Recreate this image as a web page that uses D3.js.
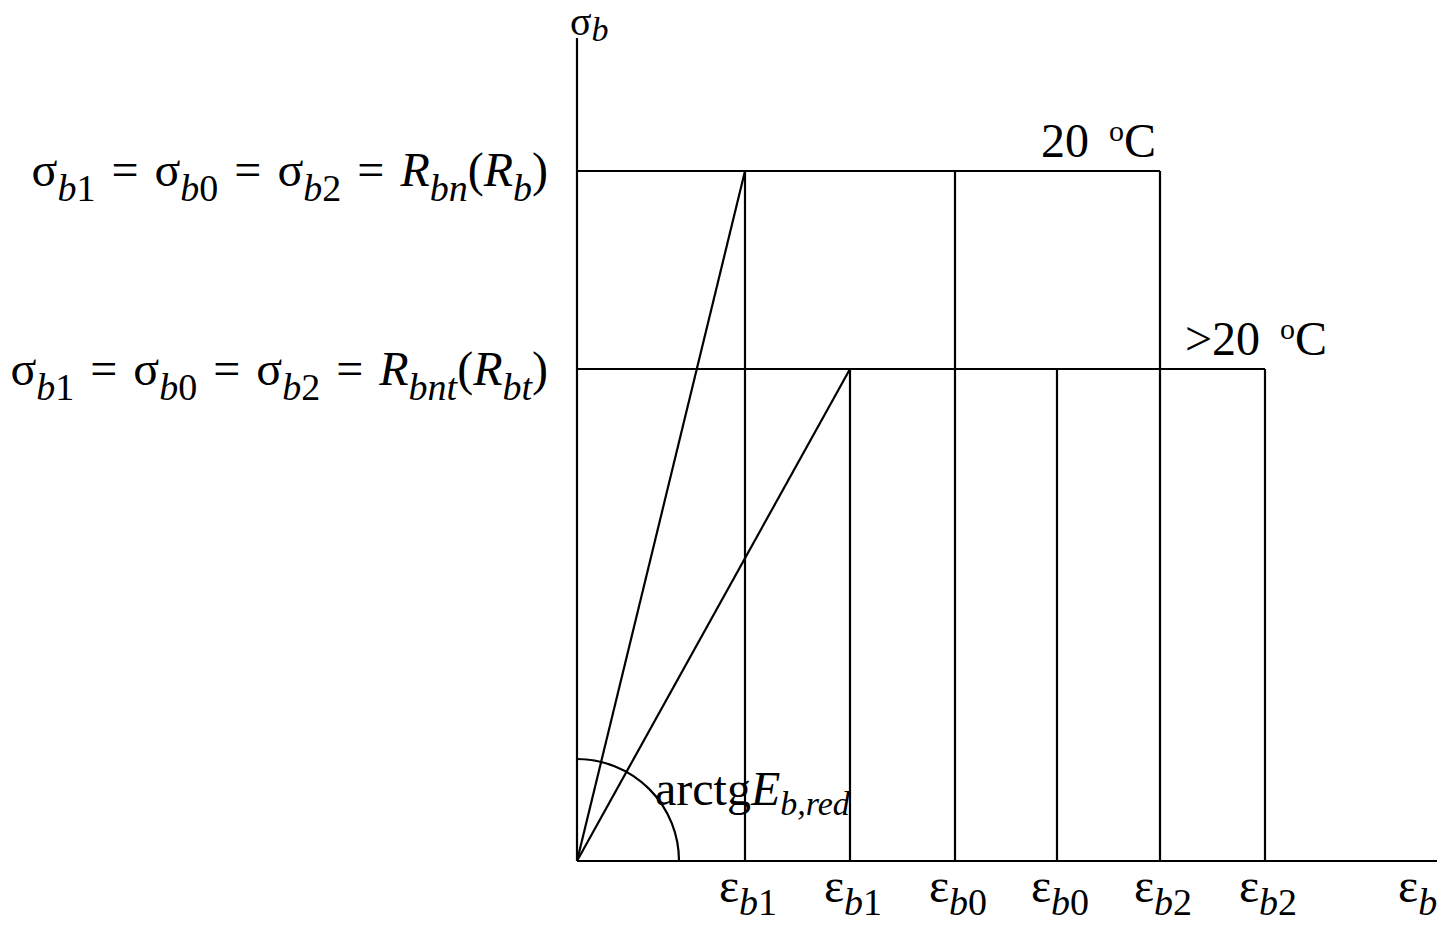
<!DOCTYPE html>
<html><head><meta charset="utf-8">
<script src="https://cdn.jsdelivr.net/npm/d3@7"></script>
<style>
body{margin:0;background:#fff}
text{font-family:"Liberation Serif","Times New Roman",serif;fill:#000}
</style>
</head><body>
<svg id="c" width="1449" height="929"></svg>
<script>
// Data (abstract strain / stress units)
const regimes = ["20 °C", ">20 °C"];
const stressLevels = [6.9, 4.92];
const epsB1 = [1.68, 2.73];
const epsB0 = [3.78, 4.80];
const epsB2 = [5.83, 6.88];
const tickValues = [1.68, 2.73, 3.78, 4.80, 5.83, 6.88];
const tickSubs = [["b","1"],["b","1"],["b","0"],["b","0"],["b","2"],["b","2"]];
const xMax = 8.6, yMax = 8.23;

const svg = d3.select("#c");
const x = d3.scaleLinear().domain([0, xMax]).range([577, 1437]);
const y = d3.scaleLinear().domain([0, yMax]).range([861, 38]);

const F = 48, FS = 38;
const g = svg.append("g").attr("stroke", "#000").attr("stroke-width", 2.2).attr("fill", "none");

// axes
g.append("line").attr("x1", x(0)).attr("y1", y(0)).attr("x2", x(xMax)).attr("y2", y(0));
g.append("line").attr("x1", x(0)).attr("y1", y(0)).attr("x2", x(0)).attr("y2", y(yMax));

// arc for arctg E
const arc = d3.arc().innerRadius(102).outerRadius(102).startAngle(0).endAngle(Math.PI/2);
g.append("path").attr("d", arc()).attr("transform", `translate(${x(0)},${y(0)})`);

regimes.forEach((r, i) => {
  const s = stressLevels[i];
  g.append("line").attr("x1", x(0)).attr("y1", y(s)).attr("x2", x(epsB2[i])).attr("y2", y(s));
  g.append("line").attr("x1", x(0)).attr("y1", y(0)).attr("x2", x(epsB1[i])).attr("y2", y(s));
  [epsB1[i], epsB0[i], epsB2[i]].forEach(e => {
    g.append("line").attr("x1", x(e)).attr("y1", y(s)).attr("x2", x(e)).attr("y2", y(0));
  });
});

function rich(parent, px, py, parts, anchor) {
  const t = parent.append("text").attr("x", px).attr("y", py).attr("text-anchor", anchor || "start");
  let cur = 0;
  parts.forEach(p => {
    const ts = t.append("tspan").text(p.t).attr("font-size", p.s || F);
    if (p.i) ts.attr("font-style", "italic");
    const want = p.d || 0;
    if (want !== cur) { ts.attr("dy", want - cur); cur = want; }
    if (p.dx) ts.attr("dx", p.dx);
  });
  return t;
}
const SUB = 15;
function sigmaLabel(sub1, sub2) {
  return [
    {t:"σ"},{t:"b",i:1,s:FS,d:SUB},{t:"1",s:FS,d:SUB},
    {t:"=",dx:16},{t:"σ",dx:16},{t:"b",i:1,s:FS,d:SUB},{t:"0",s:FS,d:SUB},
    {t:"=",dx:16},{t:"σ",dx:16},{t:"b",i:1,s:FS,d:SUB},{t:"2",s:FS,d:SUB},
    {t:"=",dx:16},{t:"R",i:1,dx:16},{t:sub1,i:1,s:FS,d:SUB},{t:"(",d:0},{t:"R",i:1},{t:sub2,i:1,s:FS,d:SUB},{t:")",d:0}
  ];
}
rich(svg, 548, y(stressLevels[0]) + 15, sigmaLabel("bn","b"), "end");
rich(svg, 548, y(stressLevels[1]) + 16, sigmaLabel("bnt","bt"), "end");

// regime labels
rich(svg, x(epsB2[0]) - 4, y(stressLevels[0]) - 14, [{t:"20"},{t:"o",s:30,d:-16,dx:20},{t:"C",d:0}], "end");
rich(svg, x(epsB2[1]) + 62, y(stressLevels[1]) - 14, [{t:">20"},{t:"o",s:30,d:-16,dx:20},{t:"C",d:0}], "end");

// axis titles
rich(svg, 570, 35, [{t:"σ",s:40},{t:"b",i:1,s:34,d:6}]);
rich(svg, 1398, 902, [{t:"ε"},{t:"b",i:1,s:FS,d:13}]);

// tick labels
tickValues.forEach((v, i) => {
  rich(svg, x(v) + 3, 902, [{t:"ε"},{t:tickSubs[i][0],i:1,s:FS,d:13},{t:tickSubs[i][1],s:FS,d:13}], "middle");
});

// arctg label
rich(svg, 655, 805, [{t:"arctg"},{t:"E",i:1},{t:"b,red",i:1,s:34,d:10}]);
</script>
</body></html>
